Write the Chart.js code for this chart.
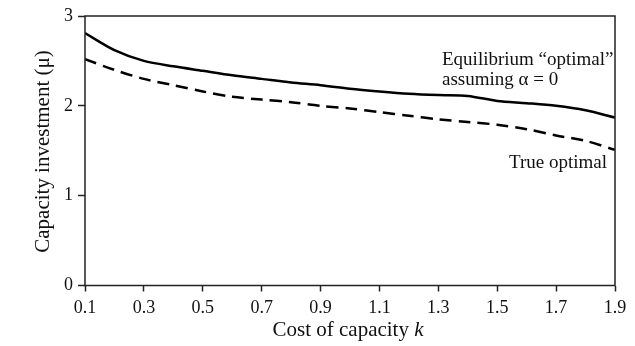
<!DOCTYPE html>
<html>
<head>
<meta charset="utf-8">
<script src="https://cdn.jsdelivr.net/npm/chart.js@4/dist/chart.umd.min.js"></script>
<style>
  html, body { margin: 0; padding: 0; background: #fff; }
  #wrap { width: 635px; height: 346px; }
</style>
</head>
<body>
<div id="wrap"><canvas id="chart"></canvas></div>
<script>
// cost of capacity k
const costK = [0.1, 0.2, 0.3, 0.4, 0.5, 0.6, 0.7, 0.8, 0.9, 1.0,
               1.1, 1.2, 1.3, 1.4, 1.5, 1.6, 1.7, 1.8, 1.9];
// equilibrium "optimal" assuming alpha = 0 (solid)
const equilibrium = [2.81, 2.62, 2.50, 2.44, 2.39, 2.34, 2.30, 2.26, 2.23, 2.19,
                     2.16, 2.135, 2.12, 2.11, 2.055, 2.03, 2.00, 1.95, 1.87];
// true optimal (dashed)
const trueOptimal = [2.52, 2.40, 2.30, 2.23, 2.16, 2.10, 2.07, 2.04, 2.00, 1.97,
                     1.93, 1.89, 1.85, 1.82, 1.79, 1.74, 1.67, 1.61, 1.51];
const xTicks = [0.1, 0.3, 0.5, 0.7, 0.9, 1.1, 1.3, 1.5, 1.7, 1.9];
const yTicks = [0, 1, 2, 3];

const serif = '"Liberation Serif", "DejaVu Serif", serif';
const axisColor = '#222';

// frame, axis titles and curve labels
const decorations = {
    id: 'decorations',
    afterDraw(chart) {
        const { ctx, chartArea: a } = chart;
        ctx.save();
        ctx.strokeStyle = axisColor;
        ctx.lineWidth = 1.5;
        ctx.strokeRect(a.left, a.top, a.right - a.left, a.bottom - a.top);

        ctx.fillStyle = '#111';
        ctx.textBaseline = 'alphabetic';

        // x title with italic k
        const plain = 'Cost of capacity ';
        ctx.font = '21px ' + serif;
        const w1 = ctx.measureText(plain).width;
        ctx.font = 'italic 21px ' + serif;
        const w2 = ctx.measureText('k').width;
        const sx = 348 - (w1 + w2) / 2;
        ctx.textAlign = 'left';
        ctx.font = '21px ' + serif;
        ctx.fillText(plain, sx, 336);
        ctx.font = 'italic 21px ' + serif;
        ctx.fillText('k', sx + w1, 336);

        // y title
        ctx.save();
        ctx.translate(43, 151.5);
        ctx.rotate(-Math.PI / 2);
        ctx.textAlign = 'center';
        ctx.textBaseline = 'middle';
        ctx.font = '21px ' + serif;
        ctx.fillText('Capacity investment (μ)', 0, 0);
        ctx.restore();

        // curve labels
        ctx.textAlign = 'left';
        ctx.font = '19px ' + serif;
        ctx.fillText('Equilibrium “optimal”', 442, 65);
        ctx.fillText('assuming α = 0', 442, 85);
        ctx.fillText('True optimal', 509, 168);
        ctx.restore();
    }
};

new Chart(document.getElementById('chart'), {
    type: 'line',
    data: {
        labels: costK,
        datasets: [{
            label: 'Equilibrium "optimal" assuming α = 0',
            data: costK.map((k, i) => ({ x: k, y: equilibrium[i] })),
            borderColor: '#000',
            borderWidth: 2.5,
            pointRadius: 0,
            tension: 0.3,
            fill: false
        }, {
            label: 'True optimal',
            data: costK.map((k, i) => ({ x: k, y: trueOptimal[i] })),
            borderColor: '#000',
            borderWidth: 2.5,
            borderDash: [12, 7],
            pointRadius: 0,
            tension: 0.3,
            fill: false
        }]
    },
    plugins: [decorations],
    options: {
        responsive: true,
        maintainAspectRatio: false,
        animation: false,
        layout: { padding: { top: 16, right: 20, left: 0, bottom: 0 } },
        plugins: {
            legend: { display: false },
            tooltip: { enabled: false }
        },
        scales: {
            x: {
                type: 'linear',
                min: 0.1,
                max: 1.9,
                afterBuildTicks: (scale) => { scale.ticks = xTicks.map(v => ({ value: v })); },
                afterFit: (scale) => { scale.height = 60.5; },
                border: { display: false },
                grid: { drawOnChartArea: false, tickLength: 6, color: axisColor, tickWidth: 1.5 },
                ticks: {
                    color: '#111',
                    padding: 6,
                    maxRotation: 0,
                    font: { family: serif, size: 18 },
                    callback: (v) => v.toFixed(1)
                }
            },
            y: {
                min: 0,
                max: 3,
                afterBuildTicks: (scale) => { scale.ticks = yTicks.map(v => ({ value: v })); },
                afterFit: (scale) => { scale.width = 85; },
                border: { display: false },
                grid: { drawOnChartArea: false, tickLength: 7, color: axisColor, tickWidth: 1.5 },
                ticks: {
                    color: '#111',
                    padding: 5,
                    font: { family: serif, size: 18 }
                }
            }
        }
    }
});
</script>
</body>
</html>
